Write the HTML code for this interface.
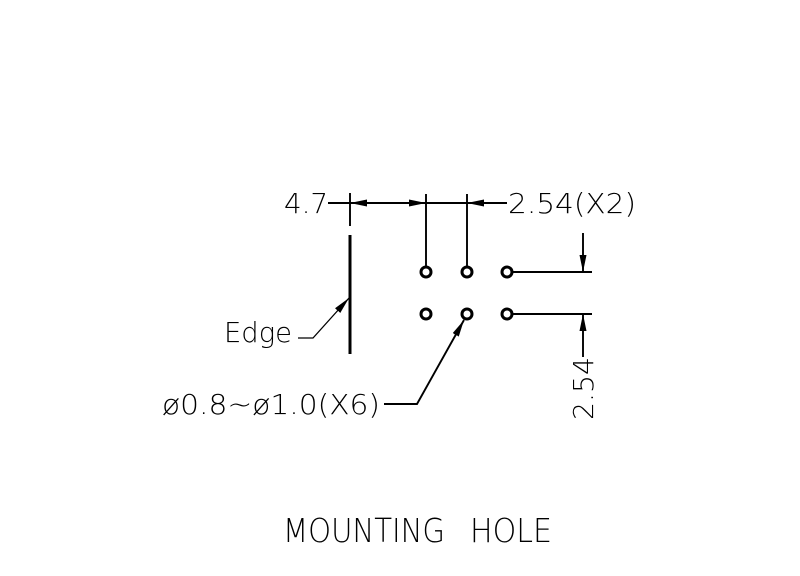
<!DOCTYPE html>
<html><head><meta charset="utf-8"><style>html,body{margin:0;padding:0;background:#fff}svg{display:block}</style></head>
<body>
<svg width="800" height="576" viewBox="0 0 800 576" xmlns="http://www.w3.org/2000/svg">
<defs>
<marker id="b" viewBox="0 0 17 7" refX="17" refY="3.5" markerWidth="17" markerHeight="7" markerUnits="userSpaceOnUse" orient="auto">
<path d="M0,0 L17,3.5 L0,7 Z" fill="#000"/></marker>
</defs>
<g stroke="#000" fill="none" stroke-width="1.9">
<line x1="350" y1="193" x2="350" y2="226"/>
<line x1="328" y1="203" x2="350" y2="203"/>
<line x1="388" y1="203" x2="350" y2="203" marker-end="url(#b)"/>
<line x1="388" y1="203" x2="426" y2="203" marker-end="url(#b)"/>
<line x1="426" y1="194" x2="426" y2="266"/>
<line x1="467" y1="194" x2="467" y2="266"/>
<line x1="426" y1="203" x2="467" y2="203"/>
<line x1="507" y1="203" x2="467" y2="203" marker-end="url(#b)"/>
<line x1="350" y1="235" x2="350" y2="354" stroke-width="3"/>
<circle cx="426" cy="272" r="5" stroke-width="3"/>
<circle cx="467" cy="272" r="5" stroke-width="3"/>
<circle cx="507" cy="272" r="5" stroke-width="3"/>
<circle cx="426" cy="314" r="5" stroke-width="3"/>
<circle cx="467" cy="314" r="5" stroke-width="3"/>
<circle cx="507" cy="314" r="5" stroke-width="3"/>
<line x1="512" y1="272" x2="592" y2="272"/>
<line x1="512" y1="314" x2="592" y2="314"/>
<line x1="583" y1="233" x2="583" y2="272" marker-end="url(#b)"/>
<line x1="583" y1="357" x2="583" y2="314" marker-end="url(#b)"/>
<polyline points="298,338 313,338 349,298" marker-end="url(#b)" stroke-width="1.3"/>
<polyline points="384,404 417,404 464,320" marker-end="url(#b)"/>
</g>
<g font-family="'DejaVu Sans','Liberation Sans',sans-serif" font-weight="200" font-size="28" fill="#000">
<text x="284" y="213" textLength="44" lengthAdjust="spacingAndGlyphs">4.7</text>
<text x="508" y="213" textLength="128" lengthAdjust="spacingAndGlyphs">2.54(X2)</text>
<text x="224" y="342" textLength="68" lengthAdjust="spacingAndGlyphs">Edge</text>
<text x="162" y="414" textLength="218" lengthAdjust="spacingAndGlyphs">ø0.8~ø1.0(X6)</text>
<text transform="translate(593,420) rotate(-90)" x="0" y="0" textLength="63" lengthAdjust="spacingAndGlyphs">2.54</text>
<text x="283" y="542" font-size="33" textLength="162" lengthAdjust="spacingAndGlyphs">MOUNTING</text>
<text x="470" y="542" font-size="33" textLength="82" lengthAdjust="spacingAndGlyphs">HOLE</text>
</g>
</svg>
</body></html>
